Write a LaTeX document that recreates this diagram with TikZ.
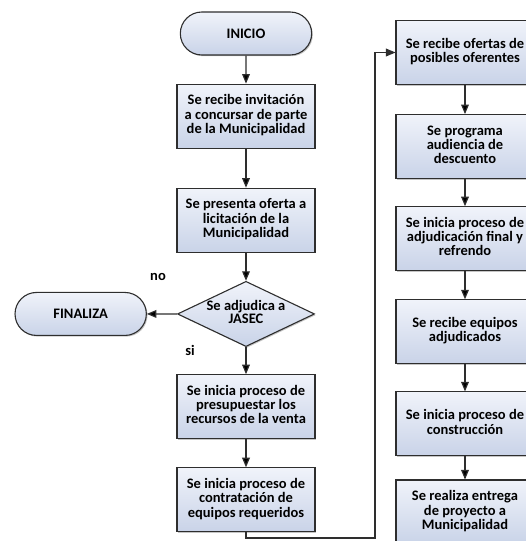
\documentclass[tikz,border=0pt]{standalone}
\usepackage{fontspec}
\setmainfont{Carlito}
\usetikzlibrary{%
  arrows,%
  shapes.misc,% wg. rounded rectangle
  shapes.geometric,% wg. diamond
  positioning,% wg. " of "
  shadows%
}
\definecolor{boxtop}{HTML}{F0F3FA}
\definecolor{boxbot}{HTML}{C9D3E8}
\definecolor{boxline}{HTML}{2E2E2E}
\setlength{\tabcolsep}{0pt}

\begin{document}
\begin{tikzpicture}[x=1pt,y=1pt,>=triangle 45,
	process/.style={
	rectangle,
	minimum width=138pt,minimum height=64pt,inner sep=1pt,
	line width=1.1pt,
	draw=boxline,
	top color=boxtop,
	bottom color=boxbot,
	drop shadow={shadow xshift=1.2pt,shadow yshift=-1.2pt,fill=black!45},
	font=\bfseries\fontsize{14.5}{14.5}\selectfont
	},terminal/.style={
	rounded rectangle,
	minimum width=138pt,minimum height=43pt,
	line width=1.1pt,draw=boxline,
	top color=boxtop,bottom color=boxbot,
	drop shadow={shadow xshift=1.2pt,shadow yshift=-1.2pt,fill=black!45},
	font=\bfseries\fontsize{14.5}{14.5}\selectfont
	},decision/.style={
	diamond,aspect=2.1,
	minimum width=136pt,minimum height=64pt,inner sep=0pt,
	line width=1.1pt,draw=boxline,
	top color=boxtop,bottom color=boxbot,
	drop shadow={shadow xshift=1.2pt,shadow yshift=-1.2pt,fill=black!45},
	font=\bfseries\fontsize{14.5}{14.5}\selectfont
	},tag/.style={
	font=\bfseries\fontsize{14.5}{14.5}\selectfont
	},point/.style={
	coordinate
	},conn/.style={
	line width=1.2pt,draw=boxline
	}
]
\useasboundingbox (0,0) rectangle (526,-541);

% left column
\node (start1) [terminal] at (246,-33.5) {INICIO};
\node (box1) [process,below=28pt of start1] {{\renewcommand{\arraystretch}{0.93}\begin{tabular}{c} Se recibe invitación \\ a concursar de parte \\ de la Municipalidad \end{tabular}}};
\node (box2) [process,below=39pt of box1] {{\renewcommand{\arraystretch}{0.93}\begin{tabular}{c} Se presenta oferta a \\ licitación de la \\ Municipalidad \end{tabular}}};
\node (dec1) [decision,below=28pt of box2] {{\renewcommand{\arraystretch}{0.93}\begin{tabular}{c} Se adjudica a \\ JASEC \end{tabular}}};
\node (end1) [terminal,left=30pt of dec1] {FINALIZA};
\node (box3) [process,below=27pt of dec1] {{\renewcommand{\arraystretch}{0.93}\begin{tabular}{c} Se inicia proceso de \\ presupuestar los \\ recursos de la venta \end{tabular}}};
\node (box4) [process,below=28pt of box3] {{\renewcommand{\arraystretch}{0.93}\begin{tabular}{c} Se inicia proceso de \\ contratación de \\ equipos requeridos \end{tabular}}};
\node (no1) [tag] at (158,-277) {no};
\node (si1) [tag] at (190,-350) {si};

% right column
\node (box7) [process] at (465,-52.5) {{\renewcommand{\arraystretch}{0.93}\begin{tabular}{c} Se recibe ofertas de \\ posibles oferentes \end{tabular}}};
\node (box8) [process,below=29pt of box7] {{\renewcommand{\arraystretch}{0.93}\begin{tabular}{c} Se programa \\ audiencia de \\ descuento \end{tabular}}};
\node (box9) [process,below=27pt of box8] {{\renewcommand{\arraystretch}{0.93}\begin{tabular}{c} Se inicia proceso de \\ adjudicación final y \\ refrendo \end{tabular}}};
\node (box10) [process,below=28pt of box9] {{\renewcommand{\arraystretch}{0.93}\begin{tabular}{c} Se recibe equipos \\ adjudicados \end{tabular}}};
\node (box11) [process,below=27pt of box10] {{\renewcommand{\arraystretch}{0.93}\begin{tabular}{c} Se inicia proceso de \\ construcción \end{tabular}}};
\node (box12) [process,below=23pt of box11] {{\renewcommand{\arraystretch}{0.93}\begin{tabular}{c} Se realiza entrega \\ de proyecto a \\ Municipalidad \end{tabular}}};

\node (pos1) [point] at (375,-538) {};

\path[conn]	(start1) edge[->] (box1)
	(box1) edge[->] (box2)
	(box2) edge[->] (dec1)
	(dec1) edge[->] (end1)
	(dec1) edge[->] (box3)
	(box3) edge[->] (box4);
\draw[conn,->] (box4) -- (box4 |- pos1) -- (pos1) |- (box7);
\path[conn]	(box7) edge[->] (box8)
	(box8) edge[->] (box9)
	(box9) edge[->] (box10)
	(box10) edge[->] (box11)
	(box11) edge[->] (box12);

\end{tikzpicture}
\end{document}
